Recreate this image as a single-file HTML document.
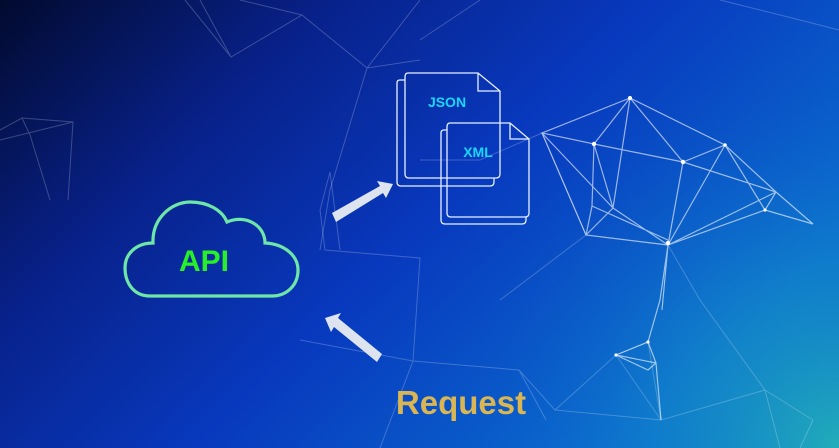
<!DOCTYPE html>
<html><head><meta charset="utf-8"><style>
html,body{margin:0;padding:0;width:839px;height:448px;overflow:hidden;}
</style></head><body>
<svg width="839" height="448" viewBox="0 0 839 448" xmlns="http://www.w3.org/2000/svg">
<defs>
<linearGradient id="bg" x1="0" y1="0" x2="1" y2="0.55">
<stop offset="0" stop-color="#020a2e"/>
<stop offset="0.3" stop-color="#08218a"/>
<stop offset="0.6" stop-color="#0839be"/>
<stop offset="1" stop-color="#0a6ed0"/>
</linearGradient>
<radialGradient id="teal" cx="839" cy="448" r="380" gradientUnits="userSpaceOnUse">
<stop offset="0" stop-color="#22b0b8" stop-opacity="0.95"/>
<stop offset="0.5" stop-color="#1488c8" stop-opacity="0.5"/>
<stop offset="1" stop-color="#0a50c8" stop-opacity="0"/>
</radialGradient>
</defs>
<rect width="839" height="448" fill="url(#bg)"/>
<rect width="839" height="448" fill="url(#teal)"/>
<g stroke="#ffffff" stroke-opacity="0.22" stroke-width="1" fill="none">
<path d="M185,0 L231,57 L302,15 L367,68 L420,60 M200,0 L231,57 M302,15 L240,0 M367,68 L330,190 L320,250 M367,68 L420,0"/>
<path d="M0,130 L22,118 L73,122 L68,200 M22,118 L30,135 L50,200 M0,140 L73,122"/>
<path d="M330,172 L320,210 L325,250 L420,258 L413,361 M330,172 L340,250 M413,361 L519,370 M413,361 L300,340 M413,361 L380,448"/>
<path d="M519,370 L555,410 L616,355 L648,342 L661,420 L765,390 L813,420 M616,355 L661,420 M519,370 L546,420 M555,410 L661,420 M765,390 L780,448 M813,420 L800,448"/>
<path d="M542,133 L480,160 L420,160 M542,133 L586,235 M586,235 L500,300 M668,245 L700,300 L765,390 M420,40 L480,0 M720,0 L800,20 L839,30"/>
</g>
<g stroke="#ffffff" stroke-opacity="0.6" stroke-width="1.2" fill="none">
<path d="M630,98 L542,133 L594,144 L630,98 L683,162 L725,145 L630,98 M594,144 L683,162 L668,245 M594,144 L592,206 L586,235 L668,245 L613,208 L594,144 M725,145 L776,192 L813,224 L765,210 L776,192 M725,145 L765,210 L668,245 L683,162 M542,133 L613,208 M592,206 L668,240 M586,235 L613,208 M630,98 L613,208 M683,162 L776,192 M668,245 L776,192 M542,133 L586,235 M725,145 L668,245"/>
<path d="M668,245 L660,300 L648,342 L656,363 L648,370 L616,355 L648,342 M656,363 L661,420 M616,355 L656,363 M668,245 L662,310"/>
</g>
<g fill="#ffffff">
<circle cx="630" cy="98" r="2"/><circle cx="594" cy="144" r="2.2"/><circle cx="683" cy="162" r="2.2"/><circle cx="725" cy="145" r="1.8"/><circle cx="668" cy="243" r="2.2"/><circle cx="765" cy="210" r="1.6"/><circle cx="648" cy="342" r="1.6"/><circle cx="616" cy="355" r="1.6"/>
</g>
<!-- cloud -->
<path d="M150,296 C133,296 125,282 125,268 C125,253 137,243 153,243 C152,218 172,202 190,202 C208,202 222,210 227,222 C245,214 265,225 265,243 C285,244 298,256 298,270 C298,285 287,296 272,296 Z" fill="none" stroke="#6ee6a8" stroke-width="3.2"/>
<text x="204" y="271" font-family="Liberation Sans, sans-serif" font-weight="bold" font-size="30" fill="#28f028" text-anchor="middle">API</text>
<!-- docs -->
<g fill="none" stroke="#e8f0ff" stroke-width="1.3">
<path d="M405,80 L400,80 Q397,80 397,83 L397,182 Q397,186 401,186 L490,186 Q494,186 494,182 L494,178"/>
<path d="M408,73 L478,73 L500,91 L500,174 Q500,178 496,178 L409,178 Q405,178 405,174 L405,77 Q405,73 408,73 Z M478,73 L478,91 L500,91"/>
<path d="M447,130 L444,130 Q441,130 441,133 L441,220 Q441,224 445,224 L522,224 Q526,224 526,220 L526,217"/>
<path d="M450,123 L510,123 L529,139 L529,213 Q529,217 525,217 L451,217 Q447,217 447,213 L447,127 Q447,123 450,123 Z M510,123 L510,139 L529,139"/>
</g>
<text x="447" y="107" font-family="Liberation Sans, sans-serif" font-weight="bold" font-size="14" fill="#18d8f8" text-anchor="middle">JSON</text>
<text x="478" y="157" font-family="Liberation Sans, sans-serif" font-weight="bold" font-size="14" fill="#18d8f8" text-anchor="middle">XML</text>
<!-- arrows -->
<g fill="#dde4f0">
<polygon points="332,213 380,186 377,181 393,184 386,198 383,193 336,222"/>
<polygon points="382,354 338,318 341,313 325,318 331,332 334,327 377,362"/>
</g>
<text x="461" y="414" font-family="Liberation Sans, sans-serif" font-weight="bold" font-size="33" fill="#d9b554" text-anchor="middle">Request</text>
</svg>
</body></html>
